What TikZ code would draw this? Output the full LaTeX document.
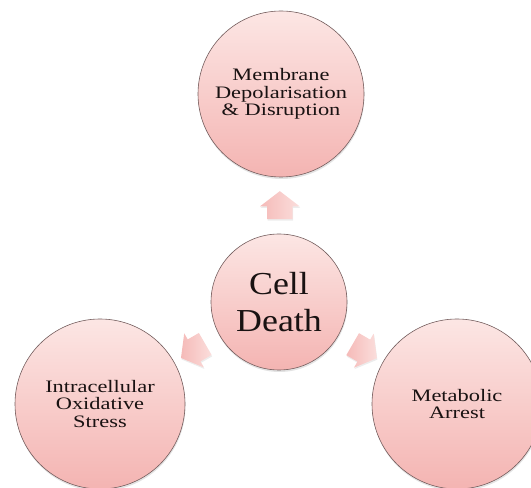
\documentclass[tikz,border=0pt]{standalone}
\usepackage{fontspec}
\newfontfamily\diagfont{Liberation Serif}[FakeStretch=1.12]
\newfontfamily\widefont{Liberation Serif}[FakeStretch=1.28]
\usetikzlibrary{shapes.arrows,shadows,calc}
\definecolor{pinktop}{RGB}{252,230,228}
\definecolor{pinkbot}{RGB}{244,180,178}
\definecolor{arrowlt}{RGB}{251,222,220}
\definecolor{arrowdk}{RGB}{245,186,184}
\definecolor{rimcol}{RGB}{115,92,92}
\definecolor{inkcol}{RGB}{25,18,18}
\def\lbl{\widefont\fontsize{17.5}{17.5}\selectfont}
\def\big{\diagfont\fontsize{32}{37}\selectfont}

\begin{document}
\begin{tikzpicture}[x=1pt,y=1pt,
    bubble/.style={circle,draw=rimcol,line width=0.6pt,top color=pinktop,bottom color=pinkbot,
      text=inkcol,align=center,inner sep=0pt,
      drop shadow={opacity=0.22,shadow xshift=0.5pt,shadow yshift=-2pt}},
    push/.style={single arrow,single arrow head extend=7pt,single arrow tip angle=105,
      minimum height=28pt,inner xsep=0pt,inner ysep=12.5pt,left color=arrowdk,right color=arrowlt,
      drop shadow={opacity=0.15,shadow xshift=0.5pt,shadow yshift=-1.5pt}}]
    \useasboundingbox (0,0) rectangle (531,488);
    \clip (0,0) rectangle (531,488);
    \node[bubble,minimum size=136pt,font=\big] (cd) at (279,186) {Cell\\Death};
    \node[bubble,minimum size=166pt,font=\lbl] (mem) at (281,394) {Membrane\\Depolarisation\\\& Disruption};
    \node[bubble,minimum size=170pt,font=\lbl] (ox) at (100,84) {Intracellular\\Oxidative\\Stress};
    \node[bubble,minimum size=170pt,font=\lbl] (met) at (457,84) {Metabolic\\Arrest};
    \node[push,rotate=90] (up) at ($(cd.north)!0.42!(mem.south)$) {};
    \node[push,rotate=210] (dl) at ($(cd)!94pt!(ox)$) {};
    \node[push,rotate=-30] (dr) at ($(cd)!94pt!(met)$) {};
\end{tikzpicture}
\end{document}
